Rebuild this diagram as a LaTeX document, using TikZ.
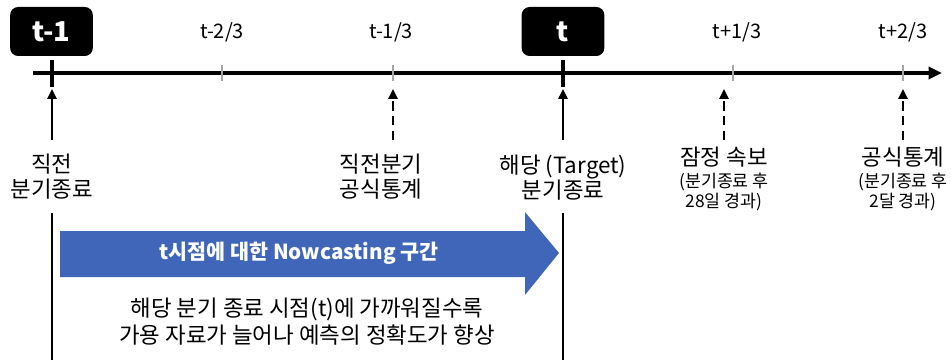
\documentclass[tikz,border=0pt]{standalone}
\usepackage{fontspec}
\setmainfont{Noto Sans CJK KR}
\usetikzlibrary{arrows.meta}
\definecolor{nowblue}{HTML}{3F66B8}
\definecolor{tickgray}{HTML}{A6A6A6}
\begin{document}
\begin{tikzpicture}[x=0.75pt,y=-0.75pt,
  timebox/.style={fill=black,rounded corners=6pt,minimum width=62pt,minimum height=36.75pt,text=white,font=\fontsize{20.5}{24}\selectfont\bfseries,inner sep=0pt},
  ticklabel/.style={font=\fontsize{15}{17}\selectfont,inner sep=0pt},
  lbl/.style={align=center,font=\fontsize{16.8}{18.75}\selectfont,inner sep=0pt},
  sublbl/.style={align=center,font=\fontsize{13}{15}\selectfont,inner sep=0pt},
  majortick/.style={line width=3pt},
  minortick/.style={line width=2.2pt,draw=tickgray},
  pointer/.style={line width=1.5pt,-{Triangle[length=7.5pt,width=7pt]}},
  dashpointer/.style={pointer,dash pattern=on 7pt off 4pt},
  guide/.style={line width=1.5pt},
  timeaxis/.style={line width=2.6pt,-{Triangle[length=10pt,width=9pt]}}
]
\useasboundingbox (0,0) rectangle (951,360);

% timeline
\coordinate (axs) at (33,73);
\coordinate (axe) at (942,73);
\draw[timeaxis] (axs) -- (axe);

% boxes
\node[timebox] (tm1) at (51.5,31.5) {t-1};
\node[timebox] (t0) at (563,31.5) {t};

% ticks
\draw[majortick] (52,60) -- (52,87);
\draw[majortick] (563,60) -- (563,87);
\draw[minortick] (222,65) -- (222,81);
\draw[minortick] (393,65) -- (393,81);
\draw[minortick] (733,65) -- (733,81);
\draw[minortick] (903,65) -- (903,81);

% tick labels
\node[ticklabel,anchor=base] (l1) at (222,39) {t-2/3};
\node[ticklabel,anchor=base] (l2) at (391,39) {t-1/3};
\node[ticklabel,anchor=base] (l3) at (737,39) {t+1/3};
\node[ticklabel,anchor=base] (l4) at (903,39) {t+2/3};

% arrow endpoints
\coordinate (s1) at (52,140);  \coordinate (e1) at (52,89);
\coordinate (s2) at (393,140); \coordinate (e2) at (393,89);
\coordinate (s3) at (563,140); \coordinate (e3) at (563,89);
\coordinate (s4) at (724,140); \coordinate (e4) at (724,89);
\coordinate (s5) at (903,140); \coordinate (e5) at (903,89);
\draw[pointer] (s1) -- (e1);
\draw[dashpointer] (s2) -- (e2);
\draw[pointer] (s3) -- (e3);
\draw[dashpointer] (s4) -- (e4);
\draw[dashpointer] (s5) -- (e5);

% labels
\node[lbl] (d1) at (52,177) {직전\\분기종료};
\node[lbl] (d2) at (381,177) {직전분기\\공식통계};
\node[lbl] (d3) at (563,178) {해당 (Target)\\분기종료};
\node[lbl] (d4) at (724,157) {잠정 속보};
\node[sublbl] (d4s) at (724,191.5) {(분기종료 후\\28일 경과)};
\node[lbl] (d5) at (903,157) {공식통계};
\node[sublbl] (d5s) at (903,191.5) {(분기종료 후\\2달 경과)};

% vertical guides
\coordinate (g1a) at (52,213); \coordinate (g1b) at (52,360);
\coordinate (g2a) at (563,213); \coordinate (g2b) at (563,360);
\draw[guide] (g1a) -- (g1b);
\draw[guide] (g2a) -- (g2b);

% blue arrow
\fill[nowblue] (60,231) -- (525,231) -- (525,212) -- (559,253) -- (525,295) -- (525,277) -- (60,277) -- cycle;
\node[text=white,font=\fontsize{15.5}{17}\selectfont\bfseries,inner sep=0pt] (now) at (299,253) {t시점에 대한 Nowcasting 구간};

% bottom text
\node[lbl,font=\fontsize{16.8}{20.25}\selectfont] (note) at (307,322) {해당 분기 종료 시점(t)에 가까워질수록\\가용 자료가 늘어나 예측의 정확도가 향상};
\end{tikzpicture}
\end{document}
